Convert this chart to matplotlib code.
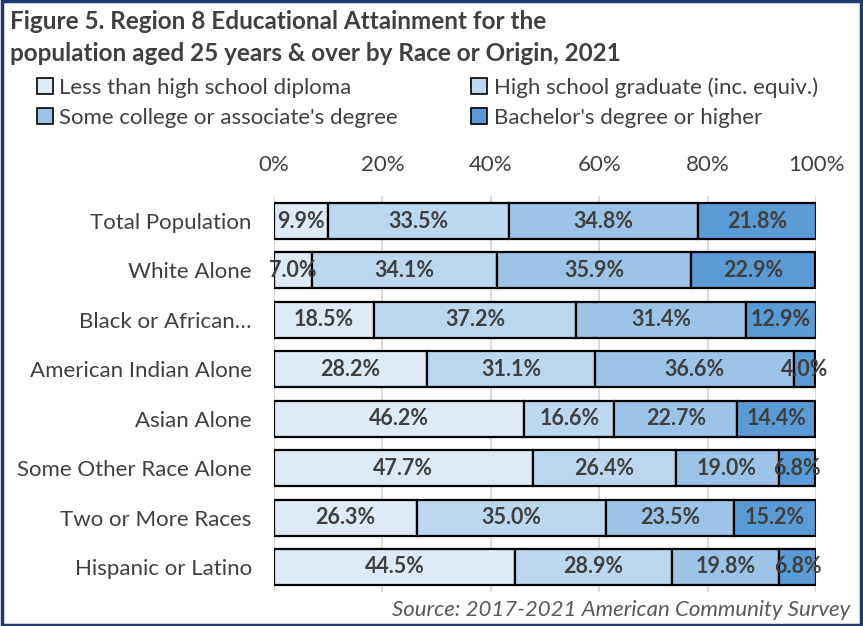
import matplotlib
matplotlib.use("Agg")
import matplotlib.pyplot as plt
from matplotlib.patches import Rectangle
import numpy as np

plt.rcParams['font.family'] = ['Lato', 'DejaVu Sans']

categories = ["Total Population", "White Alone", "Black or African\u2026",
              "American Indian Alone", "Asian Alone", "Some Other Race Alone",
              "Two or More Races", "Hispanic or Latino"]
series_names = ["Less than high school diploma", "High school graduate (inc. equiv.)",
                "Some college or associate's degree", "Bachelor's degree or higher"]
less_hs = [9.9, 7.0, 18.5, 28.2, 46.2, 47.7, 26.3, 44.5]
hs_grad = [33.5, 34.1, 37.2, 31.1, 16.6, 26.4, 35.0, 28.9]
some_college = [34.8, 35.9, 31.4, 36.6, 22.7, 19.0, 23.5, 19.8]
bachelors = [21.8, 22.9, 12.9, 4.0, 14.4, 6.8, 15.2, 6.8]
tick_labels = ["0%", "20%", "40%", "60%", "80%", "100%"]
colors = ["#DEEBF7", "#BDD7EE", "#9DC3E6", "#5B9BD5"]
text_col = "#404040"

fig = plt.figure(figsize=(8.63, 6.26), dpi=100)
ax = fig.add_axes([0.3175, 0.0548, 0.628, 0.6316])

y = np.arange(len(categories))
left = np.zeros(len(categories))
handles = []
for vals, name, c in zip([less_hs, hs_grad, some_college, bachelors], series_names, colors):
    vals = np.array(vals)
    bars = ax.barh(y, vals, left=left, height=0.73, color=c, edgecolor="black",
                   linewidth=1.6, label=name, zorder=3)
    handles.append(bars)
    for yi, l, v in zip(y, left, vals):
        ax.text(l + v / 2, yi, f"{v:.1f}%", ha="center", va="center",
                fontsize=15.5, fontweight="bold", color=text_col, zorder=5)
    left = left + vals

ax.set_xlim(0, 100)
ax.set_ylim(len(categories) - 0.5, -0.5)
ax.set_yticks(y)
ax.set_yticklabels(categories, fontsize=16, color=text_col)
ax.set_xticks(np.arange(0, 101, 20))
ax.set_xticklabels(tick_labels, fontsize=16, color=text_col)
ax.xaxis.tick_top()
ax.tick_params(axis="both", length=0)
ax.tick_params(axis="x", pad=15)
ax.tick_params(axis="y", pad=16)
for s in ax.spines.values():
    s.set_visible(False)
ax.grid(axis="x", color="#D9D9D9", linewidth=1.3, zorder=0)
ax.set_axisbelow(True)

fig.text(0.012, 0.965, "Figure 5. Region 8 Educational Attainment for the",
         fontsize=17.5, fontweight="bold", color=text_col, va="center", ha="left")
fig.text(0.012, 0.915, "population aged 25 years & over by Race or Origin, 2021",
         fontsize=17.5, fontweight="bold", color=text_col, va="center", ha="left")

# legend filled column-wise: order so rows read (less, hs) / (some, bach)
order = [0, 2, 1, 3]
leg = fig.legend(handles=[handles[i] for i in order], labels=[series_names[i] for i in order],
                 ncol=2, loc="upper left",
                 bbox_to_anchor=(0.043, 0.877), frameon=False, fontsize=16,
                 labelcolor=text_col, handlelength=0.7, handleheight=0.7,
                 handletextpad=0.3, columnspacing=3.3, labelspacing=0.45,
                 borderaxespad=0, borderpad=0)
for h in leg.legend_handles:
    h.set_linewidth(1.2)

fig.text(0.985, 0.026, "Source: 2017-2021 American Community Survey", fontsize=16,
         style="italic", color="#595959", ha="right", va="center")

fig.patches.append(Rectangle((0.002, 0.002), 0.996, 0.996, transform=fig.transFigure,
                             fill=False, edgecolor="#1F3A6E", linewidth=2.5))

fig.savefig("out.png", dpi=100)
